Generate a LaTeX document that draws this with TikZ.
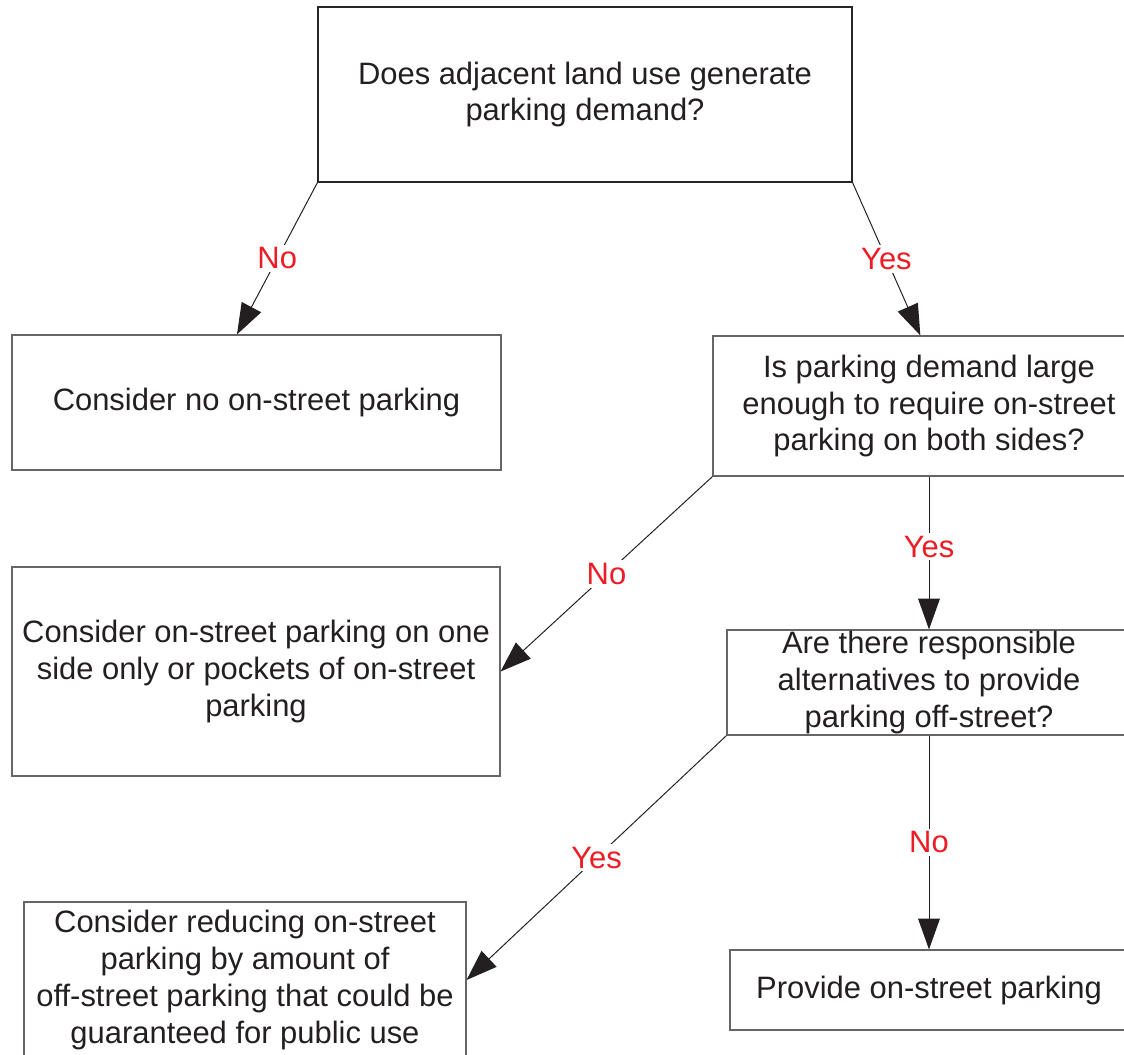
\documentclass[tikz,border=0pt]{standalone}
\usepackage{fontspec}
\setmainfont{Liberation Sans}
\usetikzlibrary{arrows.meta}
\definecolor{ink}{HTML}{231F20}
\definecolor{answer}{HTML}{ED1C24}
\begin{document}
\begin{tikzpicture}[
	box/.style={draw=black!60, line width=0.8pt, align=center, text=ink, inner sep=0pt, font=\fontsize{22}{26.3}\selectfont},
	link/.style={draw=ink, line width=0.7pt, -{Triangle[length=22pt,width=15.5pt]}},
	reply/.style={fill=white, text=answer, inner sep=2pt, font=\fontsize{22}{26.3}\selectfont}
]
\useasboundingbox (0,0) rectangle (28.1,-26.375);

\node[box, draw=black!85, minimum width=13.35cm, minimum height=4.375cm] (demand) at (14.625,-2.3625) {Does adjacent land use generate\\parking demand?};
\node[box, minimum width=12.225cm, minimum height=3.375cm] (none) at (6.4125,-10.0625) {Consider no on-street parking};
\node[box, minimum width=10.8cm, minimum height=3.5cm] (large) at (23.225,-10.15) {Is parking demand large\\enough to require on-street\\parking on both sides?};
\node[box, minimum width=12.2cm, minimum height=5.225cm] (oneside) at (6.4,-16.7875) {Consider on-street parking on one\\side only or pockets of on-street\\parking};
\node[box, minimum width=10.1cm, minimum height=2.625cm] (alter) at (23.225,-17.0625) {Are there responsible\\alternatives to provide\\parking off-street?};
\node[box, minimum width=11.05cm, minimum height=3.9cm] (reduce) at (6.125,-24.5) {Consider reducing on-street\\parking by amount of\\off-street parking that could be\\guaranteed for public use};
\node[box, minimum width=9.95cm, minimum height=2cm] (provide) at (23.225,-24.75) {Provide on-street parking};

\draw[link] (demand.south west) -- node[reply] {No} (none.106.9);
\draw[link] (demand.south east) -- node[reply] {Yes} (large.97.3);
\draw[link] (large.south west) -- node[reply] {No} (oneside.east);
\draw[link] (large.south) -- node[reply, pos=0.46] {Yes} (alter.north);
\draw[link] (alter.south west) -- node[reply] {Yes} (reduce.east);
\draw[link] (alter.south) -- node[reply] {No} (provide.north);
\end{tikzpicture}
\end{document}
